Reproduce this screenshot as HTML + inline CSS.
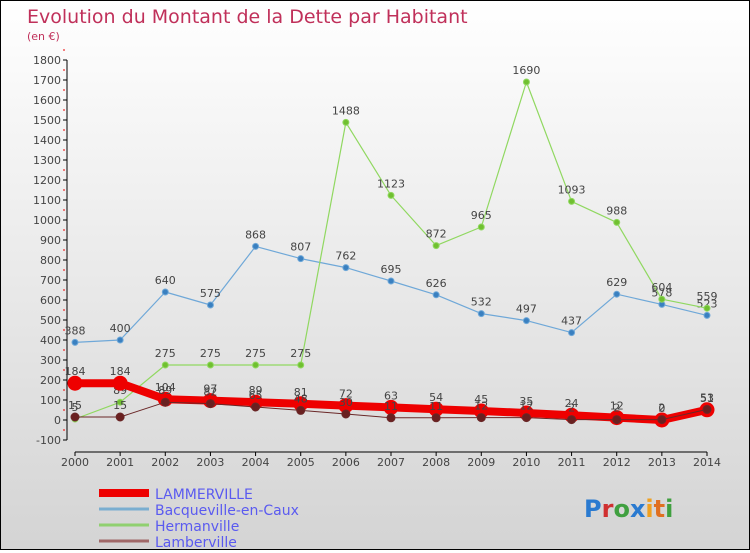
<!DOCTYPE html>
<html><head><meta charset="utf-8"><style>
html,body{margin:0;padding:0}
body{width:750px;height:550px;overflow:hidden;font-family:"DejaVu Sans","Liberation Sans",sans-serif}
#wrap{position:relative;width:748px;height:548px;border:1px solid #000;background:linear-gradient(#ffffff,#d4d4d4)}
svg text{font-family:"DejaVu Sans","Liberation Sans",sans-serif}
</style></head><body>
<div id="wrap">
<svg id="chart" width="748" height="548"></svg>
</div>
<script>
const years=[2000,2001,2002,2003,2004,2005,2006,2007,2008,2009,2010,2011,2012,2013,2014];
const yTicks=[-100,0,100,200,300,400,500,600,700,800,900,1000,1100,1200,1300,1400,1500,1600,1700,1800];
const lammerville=[184,184,104,97,89,81,72,63,54,45,35,24,12,0,51];
const bacqueville=[388,400,640,575,868,807,762,695,626,532,497,437,629,578,523];
const hermanville=[5,89,275,275,275,275,1488,1123,872,965,1690,1093,988,604,559];
const lamberville=[15,15,89,82,65,48,30,11,11,12,12,2,2,2,53];
const seriesNames=["LAMMERVILLE","Bacqueville-en-Caux","Hermanville","Lamberville"];

const NS="http://www.w3.org/2000/svg";
const svg=document.getElementById('chart');
function X(i){return 74+i*(706-74)/(years.length-1);}
function Y(v){return 419-v*0.2;}
function el(tag,attrs,parent){const e=document.createElementNS(NS,tag);for(const k in attrs)e.setAttribute(k,attrs[k]);(parent||svg).appendChild(e);return e;}

let t=el('text',{x:26,y:22,'font-size':19,fill:'#c0305a'});t.textContent='Evolution du Montant de la Dette par Habitant';

t=el('text',{x:26,y:39,'font-size':11,fill:'#c0305a'});t.textContent='(en €)';


// axes
let a=el('line',{x1:66,y1:Y(1800),x2:66,y2:Y(-100),stroke:'#000','stroke-width':1});

yTicks.forEach(v=>{
  const l=el('line',{x1:62,x2:66,y1:Y(v),y2:Y(v),stroke:'#000'});
  
  const m=el('line',{x1:62,x2:64,y1:Y(v+50),y2:Y(v+50),stroke:'#e00'});
  
  const tx=el('text',{x:60,y:Y(v)+4,'font-size':11,fill:'#444','text-anchor':'end'});tx.textContent=v;
  
});
a=el('line',{x1:74,y1:451,x2:706,y2:451,stroke:'#000'});

years.forEach((yr,i)=>{
  const l=el('line',{x1:X(i),x2:X(i),y1:451,y2:455,stroke:'#000'});
  
  const tx=el('text',{x:X(i),y:465,'font-size':11,fill:'#444','text-anchor':'middle'});tx.textContent=yr;
  
});

function drawSeries(data,color,width,r,fillc,name){
  const g=el('g',{});
  
  const p=el('polyline',{points:data.map((v,i)=>X(i)+','+Y(v)).join(' '),fill:'none',stroke:color,'stroke-width':width,'stroke-linejoin':'round'},g);
  
  data.forEach((v,i)=>{
    const c=el('circle',{cx:X(i),cy:Y(v),r:r,fill:fillc,stroke:color,'stroke-width':1},g);
    
    const tx=el('text',{x:X(i),y:Y(v)-8,'font-size':11,fill:'#444','text-anchor':'middle'},g);tx.textContent=v;
    
  });
}
drawSeries(bacqueville,'#6fa8d8',1.2,3,'#3a80c0','bacqueville');
drawSeries(hermanville,'#90d860',1.2,3,'#70c030','hermanville');
drawSeries(lammerville,'#ee0000',8,7,'#ee0000','lammerville');
drawSeries(lamberville,'#6a2828',1,4,'#6a2020','lamberville');

// legend
const lc=['#ee0000','#7aaed0','#90d070','#a06868'];
const lw=[8,3,3,3];
seriesNames.forEach((n,i)=>{
  const y=492+i*16;
  const l=el('line',{x1:98,x2:148,y1:y,y2:y,stroke:lc[i],'stroke-width':lw[i]});
  
  const tx=el('text',{x:154,y:y+6,'font-size':14,fill:'#5a5af0'});tx.textContent=n;
  
});
// logo
const lg=el('text',{x:583,y:516,'font-size':24,'font-weight':'bold'});

[['P','#2a7ad0'],['r','#d03030'],['o','#40a040'],['x','#2a7ad0'],['i','#f0a020'],['t','#e07020'],['i','#40a040']].forEach(([c,f])=>{const s=el('tspan',{fill:f},lg);s.textContent=c;});
</script>
</body></html>
